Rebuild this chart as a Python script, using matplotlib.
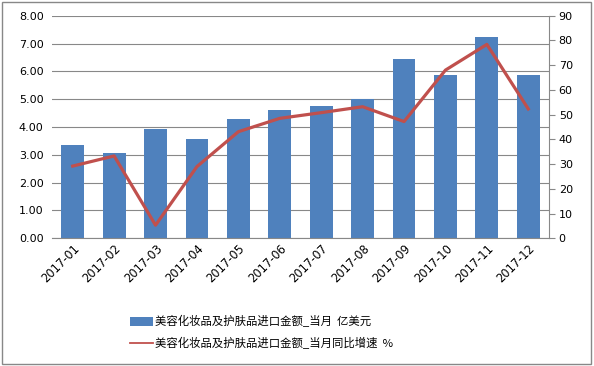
import matplotlib
matplotlib.use("Agg")
import matplotlib.pyplot as plt
import numpy as np
from matplotlib.patches import Rectangle

plt.rcParams['font.family'] = ['DejaVu Sans', 'Noto Sans CJK SC']

months = ["2017-01", "2017-02", "2017-03", "2017-04", "2017-05", "2017-06",
          "2017-07", "2017-08", "2017-09", "2017-10", "2017-11", "2017-12"]
amount = [3.36, 3.07, 3.93, 3.57, 4.29, 4.61, 4.76, 5.00, 6.45, 5.87, 7.24, 5.87]
growth = [29.2, 33.3, 5.3, 29.0, 43.1, 48.5, 50.8, 53.2, 47.2, 68.0, 78.4, 52.3]
bar_label = "美容化妆品及护肤品进口金额_当月  亿美元"
line_label = "美容化妆品及护肤品进口金额_当月同比增速  %"

fig = plt.figure(figsize=(5.94, 3.66), dpi=100)
fig.patches.append(Rectangle((0.004, 0.006), 0.991, 0.988, transform=fig.transFigure,
                             fill=False, edgecolor='#888888', linewidth=1.0))
ax = fig.add_axes([52/594, 1-238.3/366, (549-52)/594, (238.3-15.7)/366])
x = np.arange(len(months))
ax.bar(x, amount, width=0.55, color='#4F81BD', zorder=2, label=bar_label)
ax.set_xlim(-0.5, len(months)-0.5)
ax.set_ylim(0, 8)
ax.set_yticks(np.arange(0, 8.01, 1))
ax.set_yticklabels([f"{v:.2f}" for v in np.arange(0, 8.01, 1)], fontsize=8)
ax.grid(axis='y', color='#888888', linewidth=0.8, zorder=0)
ax.set_axisbelow(True)
for s in ['top', 'left', 'right']:
    ax.spines[s].set_visible(False)
ax.spines['bottom'].set_color('#888888')
ax.tick_params(axis='y', length=0, pad=6)
ax.tick_params(axis='x', length=0, pad=3)
ax.set_xticks(x)
ax.set_xticklabels(months, rotation=45, ha='right', rotation_mode='anchor', fontsize=8.3)

ax2 = ax.twinx()
ax2.plot(x, growth, color='#C0504D', linewidth=2.3, zorder=3, label=line_label)
ax2.set_ylim(0, 90)
ax2.set_yticks(np.arange(0, 91, 10))
ax2.tick_params(axis='y', labelsize=8, length=4, direction='out', color='#888888', pad=3)
for s in ['top', 'left', 'bottom']:
    ax2.spines[s].set_visible(False)
ax2.spines['right'].set_color('#888888')

h1, l1 = ax.get_legend_handles_labels()
h2, l2 = ax2.get_legend_handles_labels()
leg = fig.legend(h1 + h2, l1 + l2, loc='upper left', bbox_to_anchor=(120/594, 1-305/366),
                 frameon=False, prop={'family': ['Noto Sans CJK SC', 'DejaVu Sans'], 'size': 8.2},
                 handlelength=2.0, handleheight=0.75, handletextpad=0.15, labelspacing=0.85)
for ln in leg.get_lines():
    ln.set_linewidth(1.3)

fig.savefig("out.png", dpi=100)
